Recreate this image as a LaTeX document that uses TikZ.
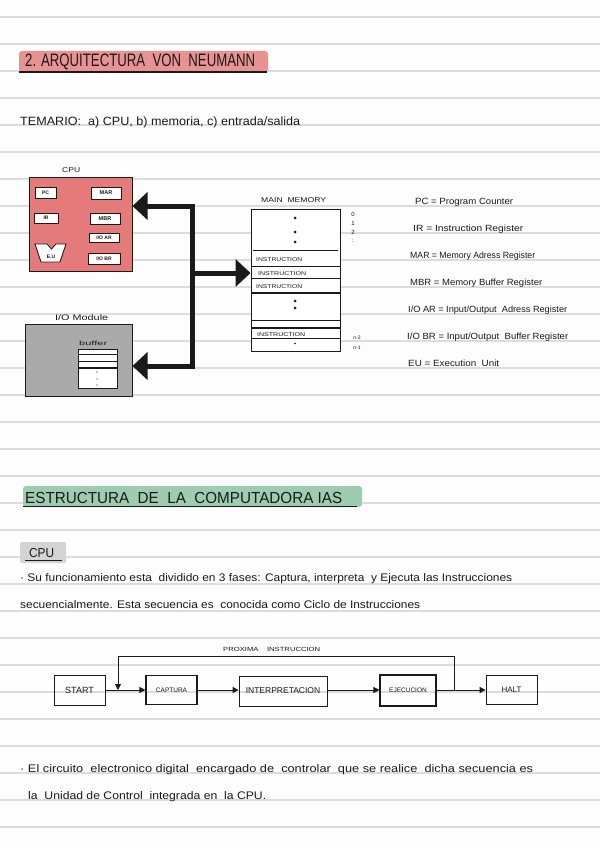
\documentclass[tikz,border=0pt]{standalone}
\usepackage{fontspec}
\setmainfont{Liberation Sans}
\usepackage{graphicx}
\usetikzlibrary{arrows.meta}
\definecolor{pagebg}{HTML}{FDFDFD}
\definecolor{rulec}{HTML}{DCDCDC}
\definecolor{ink}{HTML}{1A1A1A}
\definecolor{pinkT}{HTML}{E99292}
\definecolor{cpuR}{HTML}{E47A7A}
\definecolor{ioG}{HTML}{AAAAAA}
\definecolor{greenT}{HTML}{9ECCB0}
\definecolor{tabG}{HTML}{D4D4D4}
\newcommand\hw[2]{\resizebox{#1pt}{\height}{#2}}
\newcommand\fs[1]{\fontsize{#1}{#1}\selectfont}
\begin{document}
\begin{tikzpicture}[x=1pt,y=-1pt,
  txt/.style={anchor=base west, inner sep=0pt, text=ink},
  ctxt/.style={anchor=center, inner sep=0pt, text=ink},
  rule/.style={draw=rulec, line width=1.1pt},
  reg/.style={draw=ink, fill=white, line width=0.8pt, inner sep=0pt, font=\bfseries, text=ink},
  blk/.style={draw=ink, line width=1pt, inner sep=0pt},
  thickconn/.style={draw=ink, line width=5pt, line join=miter},
  bigtip/.tip={Triangle[length=15pt,width=27pt]},
  fbox/.style={draw=ink, line width=0.8pt, inner sep=0pt, text=ink},
  flow/.style={draw=ink, line width=0.8pt, -{Triangle[length=6pt,width=6pt]}},
  memline/.style={draw=ink, line width=0.7pt},
  dotc/.style={fill=ink}
]
\useasboundingbox (0,0) rectangle (600,848);
\fill[pagebg] (0,0) rectangle (600,848);
\foreach \k in {0,...,30} \draw[rule] (0,17+27*\k) -- (600,17+27*\k);

% ---------- Title 1 ----------
\fill[pinkT, rounded corners=3pt] (19,51) rectangle (268,72);
\draw[ink, line width=2pt] (19,72) -- (267,72);
\node[txt] (t1) at (25,67) {\fs{18}\hw{230}{2. ARQUITECTURA\ \ VON\ \ NEUMANN}};

\node[txt] (tem) at (20,125) {\fs{12}\hw{280}{TEMARIO:\ \ a) CPU, b) memoria, c) entrada/salida}};

% ---------- CPU ----------
\node[blk, fill=cpuR, minimum width=103pt, minimum height=94pt] (cpu) at (80.5,224) {};
\node[txt] (cpul) at (62,172) {\fs{7}\hw{18}{CPU}};
\node[reg, minimum width=21pt, minimum height=11pt] (pc) at (45.5,192.5) {\fs{5}PC};
\node[reg, minimum width=30pt, minimum height=12pt] (mar) at (106,193) {\fs{5.5}MAR};
\node[reg, minimum width=24pt, minimum height=10pt] (ir) at (46,218) {\fs{5}IR};
\node[reg, minimum width=30pt, minimum height=11pt] (mbr) at (105,218.5) {\fs{5.5}MBR};
\node[reg, minimum width=30pt, minimum height=9pt] (ioar) at (104,237.5) {\fs{5}I/O\ AR};
\node[reg, minimum width=32pt, minimum height=11pt] (iobr) at (104,258.5) {\fs{5}I/O\ BR};
\draw[ink, fill=white, line width=0.8pt] (35,244) -- (47,244) -- (51.5,249) -- (56,244) -- (66,244) -- (60,262) -- (41,262) -- cycle;
\node[ctxt, font=\bfseries] (eu) at (51,256.5) {\fs{5}E.U};

% ---------- I/O module ----------
\node[blk, fill=ioG, minimum width=107pt, minimum height=72pt] (iom) at (78.5,360) {};
\node[txt] (ioml) at (55,320) {\fs{8}\hw{53}{I/O Module}};
\node[txt] (bufl) at (79,345) {\fs{6}\hw{28}{buffer}};
\node[blk, fill=white, line width=0.8pt, minimum width=39pt, minimum height=39pt] (buf) at (97.5,368.5) {};
\draw[memline] (78,354) -- (117,354);
\draw[memline] (78,361) -- (117,361);
\draw[ink, line width=1.3pt] (78,368) -- (117,368);
\foreach \yy in {372,379,385} \fill[dotc] (97,\yy) circle (0.7);

% ---------- Main memory ----------
\node[blk, fill=white, minimum width=89pt, minimum height=142pt] (mem) at (295.5,280) {};
\node[txt] (meml) at (261,202) {\fs{7}\hw{65}{MAIN\ \ MEMORY}};
\draw[memline] (253,250) -- (338,250);
\draw[memline] (251,266) -- (340,266);
\draw[memline] (251,278) -- (340,278);
\draw[ink, line width=1.4pt] (251,293) -- (340,293);
\draw[memline] (251,320) -- (340,320);
\draw[ink, line width=1.4pt] (251,328) -- (340,328);
\draw[memline] (251,338) -- (340,338);
\foreach \yy in {218,232,242,301,308} \fill[dotc] (295,\yy) circle (1.5);
\fill[dotc] (295,343.5) circle (0.8);
\node[txt] (in1) at (256,261) {\fs{5.5}\hw{46}{INSTRUCTION}};
\node[txt] (in2) at (258,275) {\fs{5.5}\hw{48}{INSTRUCTION}};
\node[txt] (in3) at (256,288) {\fs{5.5}\hw{46}{INSTRUCTION}};
\node[txt] (in4) at (257,336) {\fs{5.5}\hw{48}{INSTRUCTION}};
\node[ctxt] (a0) at (353,214) {\fs{6}0};
\node[ctxt] (a1) at (353,223.5) {\fs{6}1};
\node[ctxt] (a2) at (353,232) {\fs{6}2};
\node[ctxt] (a3) at (353,241) {\fs{6}:};
\node[ctxt] (an2) at (357,337.5) {\fs{5}n-2};
\node[ctxt] (an1) at (357,347.5) {\fs{5}n-1};

% ---------- Bus arrows ----------
\coordinate (top) at (192,206);
\coordinate (mid) at (192,273);
\coordinate (bot) at (192,366);
\draw[thickconn, {bigtip}-{bigtip}] (cpu.east |- top) -- (top) -- (bot) -- (iom.east |- bot);
\draw[thickconn, -{bigtip}] (mid) -- (mem.west |- mid);

% ---------- Legend ----------
\node[txt] (l1) at (415,204) {\fs{9}\hw{98}{PC = Program Counter}};
\node[txt] (l2) at (413,231) {\fs{9}\hw{110}{IR = Instruction Register}};
\node[txt] (l3) at (410,258) {\fs{9}\hw{125}{MAR = Memory Adress Register}};
\node[txt] (l4) at (410,285) {\fs{9}\hw{132}{MBR = Memory Buffer Register}};
\node[txt] (l5) at (408,312) {\fs{9}\hw{159}{I/O AR = Input/Output\ \ Adress Register}};
\node[txt] (l6) at (407,339) {\fs{9}\hw{161}{I/O BR = Input/Output\ \ Buffer Register}};
\node[txt] (l7) at (408,366) {\fs{9}\hw{91}{EU = Execution\ \ Unit}};

% ---------- Title 2 ----------
\fill[greenT, rounded corners=3pt] (23,486) rectangle (362,507);
\draw[ink, line width=1.5pt] (23,506.5) -- (357,506.5);
\node[txt] (t2) at (25,503) {\fs{16}\hw{317}{ESTRUCTURA\ \ DE\ \ LA\ \ COMPUTADORA\ IAS}};

\fill[tabG, rounded corners=2pt] (20,542) rectangle (66,563);
\node[txt] (t3) at (29,557) {\fs{13}\hw{25}{CPU}};
\draw[ink, line width=0.8pt] (25,560.5) -- (62,560.5);

\node[txt] (p1) at (20,581) {\fs{11}\hw{492}{· Su funcionamiento esta\ \ dividido en 3 fases: Captura, interpreta\ \ y Ejecuta las Instrucciones}};
\node[txt] (p2) at (20,608) {\fs{11}\hw{400}{secuencialmente. Esta secuencia es\ \ conocida como Ciclo de Instrucciones}};

% ---------- Flowchart ----------
\node[fbox, minimum width=51pt, minimum height=30pt] (start) at (79.5,690) {\fs{9}START};
\node[fbox, line width=1.1pt, minimum width=51pt, minimum height=29pt] (capt) at (171.5,690) {\fs{6.5}CAPTURA};
\node[fbox, minimum width=88pt, minimum height=30pt] (interp) at (283,691) {\fs{8.5}INTERPRETACION};
\node[fbox, line width=1.1pt, minimum width=56pt, minimum height=31pt] (ejec) at (408,690.5) {\fs{6.5}EJECUCION};
\node[fbox, minimum width=51pt, minimum height=29pt] (halt) at (511.5,690) {\fs{8}HALT};
\draw[flow] (start.east |- 0,690) -- (capt.west |- 0,690);
\draw[flow] (capt.east |- 0,690) -- (interp.west |- 0,690);
\draw[flow] (interp.east |- 0,690) -- (ejec.west |- 0,690);
\draw[flow] (ejec.east |- 0,690) -- (halt.west |- 0,690);
\coordinate (lpa) at (454,690);
\coordinate (lpb) at (118,690);
\draw[flow] (lpa) -- ++(0,-34) -| (lpb);
\node[txt] (prox) at (223,651) {\fs{6}\hw{97}{PROXIMA\ \ \ \ INSTRUCCION}};

% ---------- Bottom text ----------
\node[txt] (b1) at (20,772) {\fs{11}\hw{513}{· El circuito\ \ electronico digital\ \ encargado de\ \ controlar\ \ que se realice\ \ dicha secuencia es}};
\node[txt] (b2) at (28,799) {\fs{11}\hw{238}{la\ \ Unidad de Control\ \ integrada en\ \ la CPU.}};
\end{tikzpicture}
\end{document}
